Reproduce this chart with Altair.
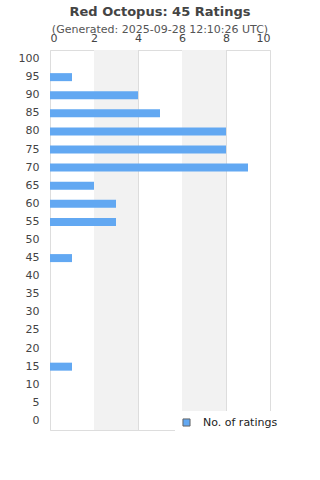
import altair as alt
import pandas as pd

scores = [100, 95, 90, 85, 80, 75, 70, 65, 60, 55, 50, 45, 40, 35, 30, 25, 20, 15, 10, 5, 0]
counts = [0, 1, 4, 5, 8, 8, 9, 2, 3, 3, 0, 1, 0, 0, 0, 0, 0, 1, 0, 0, 0]
series_name = "No. of ratings"
band_starts = [2, 6]
band_ends = [4, 8]
x_ticks = [0, 2, 4, 6, 8, 10]

df = pd.DataFrame({"score": [str(s) for s in scores], "count": counts, "series": series_name})
bands = pd.DataFrame({"start": band_starts, "end": band_ends})

font = "DejaVu Sans"

shade = alt.Chart(bands).mark_rect(color="#f2f2f2").encode(
    x=alt.X("start:Q"),
    x2="end:Q",
)

bars = alt.Chart(df).mark_bar(size=8).encode(
    y=alt.Y("score:O", sort=[str(s) for s in scores], title=None,
            scale=alt.Scale(domain=[str(s) for s in scores]),
            axis=alt.Axis(ticks=False, domain=False, labelPadding=11, labelFontSize=11,
                          labelColor="#444", labelFont=font, grid=False)),
    x=alt.X("count:Q", title=None,
            scale=alt.Scale(domain=[0, 10], nice=False),
            axis=alt.Axis(orient="top", values=x_ticks, ticks=False, domain=False,
                          labelPadding=7, labelFontSize=11, labelColor="#444",
                          labelFont=font, grid=True, gridColor="#dddddd")),
    color=alt.Color("series:N", scale=alt.Scale(range=["#62a8f2"]),
                    legend=alt.Legend(title=None, orient="none", legendX=125, legendY=361,
                                      fillColor="white", symbolType="square",
                                      symbolStrokeColor="#666666", symbolStrokeWidth=1,
                                      symbolSize=50, labelFontSize=11, labelColor="#222",
                                      labelFont=font, labelOffset=11, padding=6)),
)

chart = alt.layer(shade, bars).properties(
    width=220,
    height=380,
    padding={"left": 50, "top": 50, "right": 50, "bottom": 50},
    autosize=alt.AutoSizeParams(type="none"),
    title=alt.TitleParams(
        text="Red Octopus: 45 Ratings",
        subtitle="(Generated: 2025-09-28 12:10:26 UTC)",
        anchor="middle", font=font, fontSize=13, fontWeight="bold", color="#444",
        subtitleFont=font, subtitleFontSize=11, subtitleColor="#555",
        offset=-3, subtitlePadding=5,
    ),
).configure_view(stroke="#dddddd")

chart.save("out.html", embed_options={"renderer": "svg", "actions": False})
